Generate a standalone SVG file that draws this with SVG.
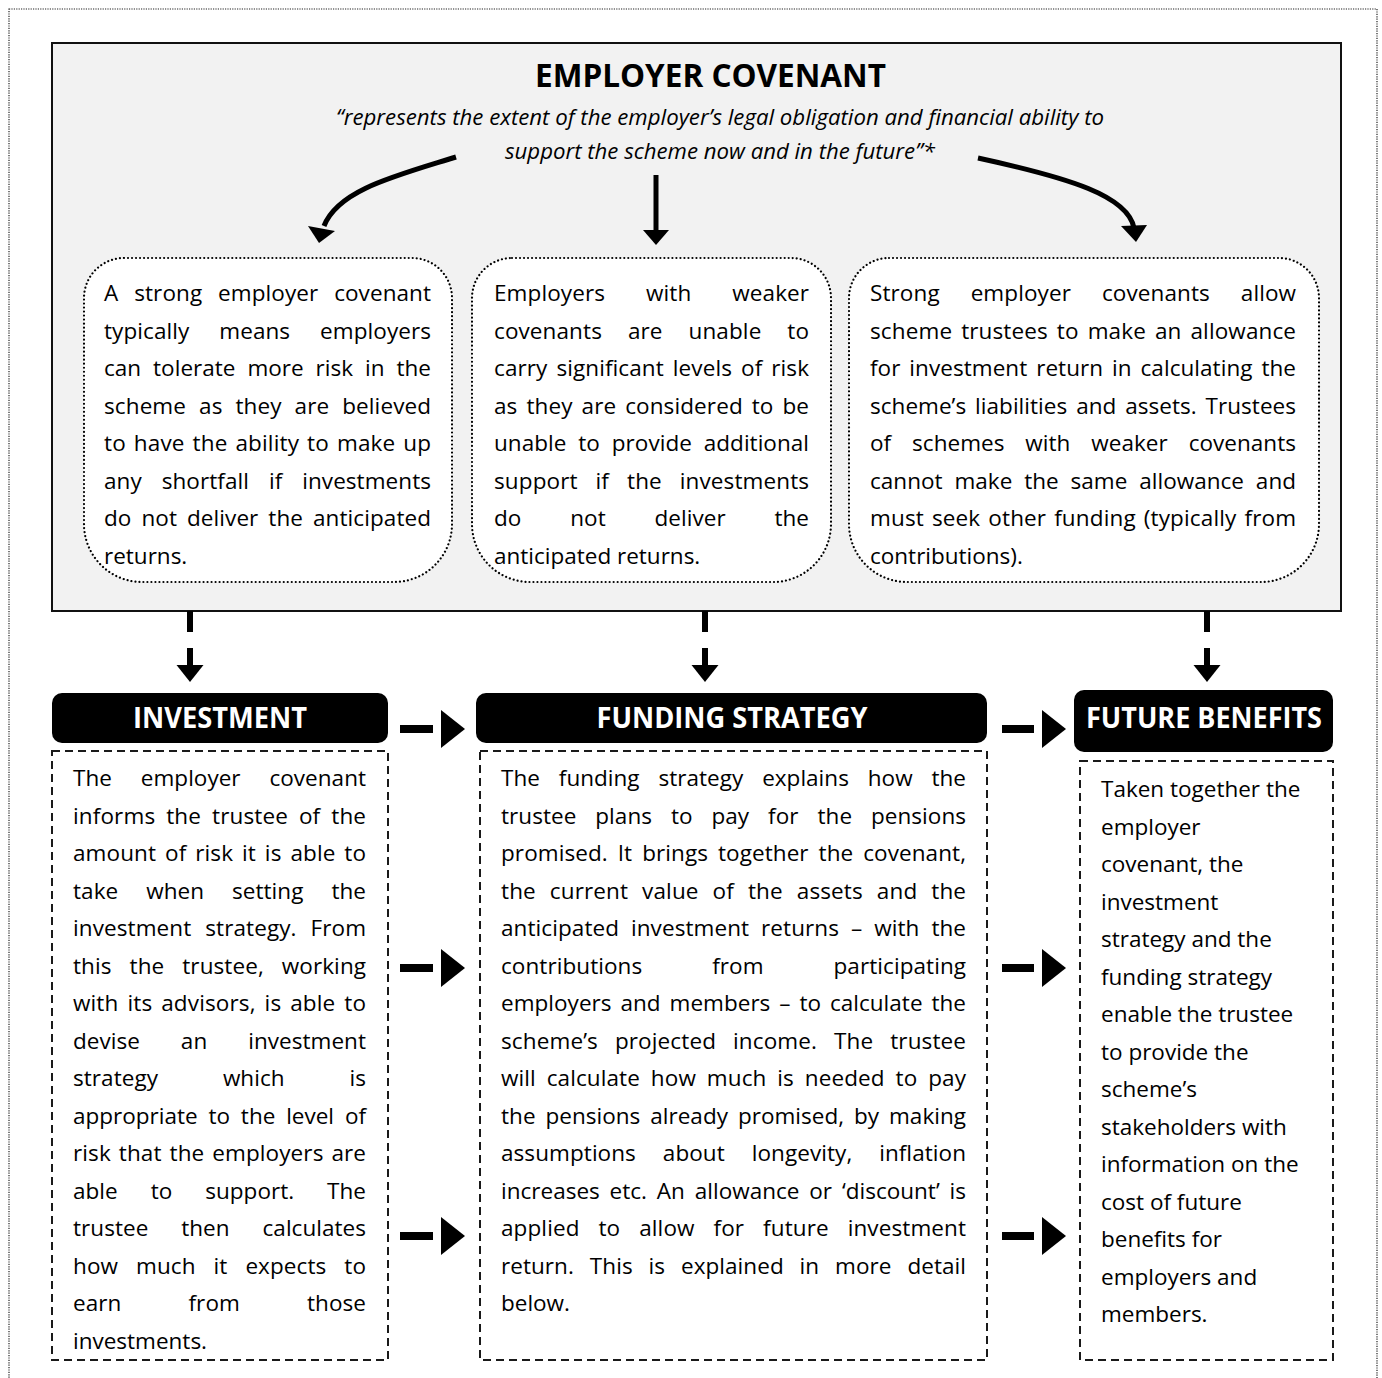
<svg xmlns="http://www.w3.org/2000/svg" width="1382" height="1378" viewBox="0 0 1382 1378">
<style>
.t{font-family:"Open Sans","Noto Sans","Liberation Sans",sans-serif;font-size:22.5px;fill:#000}
.it{font-family:"Open Sans","Noto Sans","Liberation Sans",sans-serif;font-size:21px;font-style:italic;fill:#000}
.ttl{font-family:"Open Sans","Noto Sans","Liberation Sans",sans-serif;font-size:32px;font-weight:bold;fill:#000}
.hdr{font-family:"Open Sans","Noto Sans","Liberation Sans",sans-serif;font-size:28px;font-weight:bold;fill:#fff}
.dot{fill:#fff;stroke:#000;stroke-width:2.2;stroke-dasharray:0.01 4;stroke-linecap:round}
.dash{fill:#fff;stroke:#1a1a1a;stroke-width:2;stroke-dasharray:8 5}
.hbox{fill:#000}
.arr{fill:#000}
.curve{fill:none;stroke:#000;stroke-width:5}
</style>
<rect x="9" y="9" width="1368" height="1390" fill="none" stroke="#222" stroke-width="1.2" stroke-dasharray="1.2 1.2"/>

<g id="employer-covenant">
<rect x="52" y="43" width="1289" height="568" fill="#f2f2f2" stroke="#111" stroke-width="2"/>
<text class="ttl" x="710.5" y="87" text-anchor="middle" textLength="351" lengthAdjust="spacingAndGlyphs">EMPLOYER COVENANT</text>
<text class="it" x="720" y="125" text-anchor="middle" textLength="768" lengthAdjust="spacingAndGlyphs">“represents the extent of the employer’s legal obligation and financial ability to</text>
<text class="it" x="720" y="159" text-anchor="middle" textLength="430" lengthAdjust="spacingAndGlyphs">support the scheme now and in the future”*</text>
</g>

<g id="strong-covenant">
<path class="dot" d="M124,258 H412 A40,40 0 0 1 452,298 V524 A58,58 0 0 1 394,582 H142 A58,58 0 0 1 84,524 V298 A40,40 0 0 1 124,258 Z"/>
<text class="t" x="104" y="301" textLength="327" lengthAdjust="spacing" word-spacing="10">A strong employer covenant</text>
<text class="t" x="104" y="338.5" textLength="327" lengthAdjust="spacing" word-spacing="24">typically means employers</text>
<text class="t" x="104" y="376" textLength="327" lengthAdjust="spacing" word-spacing="6">can tolerate more risk in the</text>
<text class="t" x="104" y="413.5" textLength="327" lengthAdjust="spacing" word-spacing="7">scheme as they are believed</text>
<text class="t" x="104" y="451" textLength="327" lengthAdjust="spacing" word-spacing="2">to have the ability to make up</text>
<text class="t" x="104" y="488.5" textLength="327" lengthAdjust="spacing" word-spacing="14">any shortfall if investments</text>
<text class="t" x="104" y="526" textLength="327" lengthAdjust="spacing" word-spacing="4">do not deliver the anticipated</text>
<text class="t" x="104" y="563.5">returns.</text>
</g>

<g id="weak-covenant">
<path class="dot" d="M512,258 H791 A40,40 0 0 1 831,298 V524 A58,58 0 0 1 773,582 H530 A58,58 0 0 1 472,524 V298 A40,40 0 0 1 512,258 Z"/>
<text class="t" x="494" y="301" textLength="315" lengthAdjust="spacing" word-spacing="35">Employers with weaker</text>
<text class="t" x="494" y="338.5" textLength="315" lengthAdjust="spacing" word-spacing="20">covenants are unable to</text>
<text class="t" x="494" y="376" textLength="315" lengthAdjust="spacing" word-spacing="3">carry significant levels of risk</text>
<text class="t" x="494" y="413.5" textLength="315" lengthAdjust="spacing" word-spacing="3">as they are considered to be</text>
<text class="t" x="494" y="451" textLength="315" lengthAdjust="spacing" word-spacing="6">unable to provide additional</text>
<text class="t" x="494" y="488.5" textLength="315" lengthAdjust="spacing" word-spacing="12">support if the investments</text>
<text class="t" x="494" y="526" textLength="315" lengthAdjust="spacing" word-spacing="43">do not deliver the</text>
<text class="t" x="494" y="563.5">anticipated returns.</text>
</g>

<g id="allowance">
<path class="dot" d="M889,258 H1279 A40,40 0 0 1 1319,298 V524 A58,58 0 0 1 1261,582 H907 A58,58 0 0 1 849,524 V298 A40,40 0 0 1 889,258 Z"/>
<text class="t" x="870" y="301" textLength="426" lengthAdjust="spacing" word-spacing="25">Strong employer covenants allow</text>
<text class="t" x="870" y="338.5" textLength="426" lengthAdjust="spacing" word-spacing="3">scheme trustees to make an allowance</text>
<text class="t" x="870" y="376" textLength="426" lengthAdjust="spacing" word-spacing="3">for investment return in calculating the</text>
<text class="t" x="870" y="413.5" textLength="426" lengthAdjust="spacing" word-spacing="3">scheme’s liabilities and assets. Trustees</text>
<text class="t" x="870" y="451" textLength="426" lengthAdjust="spacing" word-spacing="15">of schemes with weaker covenants</text>
<text class="t" x="870" y="488.5" textLength="426" lengthAdjust="spacing" word-spacing="6">cannot make the same allowance and</text>
<text class="t" x="870" y="526" textLength="426" lengthAdjust="spacing" word-spacing="2">must seek other funding (typically from</text>
<text class="t" x="870" y="563.5">contributions).</text>
</g>

<g id="investment">
<rect class="hbox" x="52" y="693" width="336" height="50" rx="10" ry="10"/>
<text class="hdr" x="220" y="728" text-anchor="middle" textLength="174" lengthAdjust="spacingAndGlyphs">INVESTMENT</text>
<rect class="dash" x="52" y="751" width="336" height="609"/>
<text class="t" x="73" y="786" textLength="293" lengthAdjust="spacing" word-spacing="23">The employer covenant</text>
<text class="t" x="73" y="823.5" textLength="293" lengthAdjust="spacing" word-spacing="5">informs the trustee of the</text>
<text class="t" x="73" y="861" textLength="293" lengthAdjust="spacing" word-spacing="3">amount of risk it is able to</text>
<text class="t" x="73" y="898.5" textLength="293" lengthAdjust="spacing" word-spacing="22">take when setting the</text>
<text class="t" x="73" y="936" textLength="293" lengthAdjust="spacing" word-spacing="8">investment strategy. From</text>
<text class="t" x="73" y="973.5" textLength="293" lengthAdjust="spacing" word-spacing="12">this the trustee, working</text>
<text class="t" x="73" y="1011" textLength="293" lengthAdjust="spacing" word-spacing="3">with its advisors, is able to</text>
<text class="t" x="73" y="1048.5" textLength="293" lengthAdjust="spacing" word-spacing="35">devise an investment</text>
<text class="t" x="73" y="1086" textLength="293" lengthAdjust="spacing" word-spacing="59">strategy which is</text>
<text class="t" x="73" y="1123.5" textLength="293" lengthAdjust="spacing" word-spacing="5">appropriate to the level of</text>
<text class="t" x="73" y="1161" textLength="293" lengthAdjust="spacing" word-spacing="2">risk that the employers are</text>
<text class="t" x="73" y="1198.5" textLength="293" lengthAdjust="spacing" word-spacing="27">able to support. The</text>
<text class="t" x="73" y="1236" textLength="293" lengthAdjust="spacing" word-spacing="27">trustee then calculates</text>
<text class="t" x="73" y="1273.5" textLength="293" lengthAdjust="spacing" word-spacing="12">how much it expects to</text>
<text class="t" x="73" y="1311" textLength="293" lengthAdjust="spacing" word-spacing="61">earn from those</text>
<text class="t" x="73" y="1348.5">investments.</text>
</g>

<g id="funding-strategy">
<rect class="hbox" x="476" y="693" width="511" height="50" rx="10" ry="10"/>
<text class="hdr" x="732" y="728" text-anchor="middle" textLength="271" lengthAdjust="spacingAndGlyphs">FUNDING STRATEGY</text>
<rect class="dash" x="480" y="751" width="507" height="609"/>
<text class="t" x="501" y="786" textLength="465" lengthAdjust="spacing" word-spacing="13">The funding strategy explains how the</text>
<text class="t" x="501" y="823.5" textLength="465" lengthAdjust="spacing" word-spacing="13">trustee plans to pay for the pensions</text>
<text class="t" x="501" y="861" textLength="465" lengthAdjust="spacing" word-spacing="4">promised. It brings together the covenant,</text>
<text class="t" x="501" y="898.5" textLength="465" lengthAdjust="spacing" word-spacing="8">the current value of the assets and the</text>
<text class="t" x="501" y="936" textLength="465" lengthAdjust="spacing" word-spacing="6">anticipated investment returns – with the</text>
<text class="t" x="501" y="973.5" textLength="465" lengthAdjust="spacing" word-spacing="64">contributions from participating</text>
<text class="t" x="501" y="1011" textLength="465" lengthAdjust="spacing" word-spacing="3">employers and members – to calculate the</text>
<text class="t" x="501" y="1048.5" textLength="465" lengthAdjust="spacing" word-spacing="11">scheme’s projected income. The trustee</text>
<text class="t" x="501" y="1086" textLength="465" lengthAdjust="spacing" word-spacing="5">will calculate how much is needed to pay</text>
<text class="t" x="501" y="1123.5" textLength="465" lengthAdjust="spacing" word-spacing="4">the pensions already promised, by making</text>
<text class="t" x="501" y="1161" textLength="465" lengthAdjust="spacing" word-spacing="21">assumptions about longevity, inflation</text>
<text class="t" x="501" y="1198.5" textLength="465" lengthAdjust="spacing" word-spacing="4">increases etc. An allowance or ‘discount’ is</text>
<text class="t" x="501" y="1236" textLength="465" lengthAdjust="spacing" word-spacing="13">applied to allow for future investment</text>
<text class="t" x="501" y="1273.5" textLength="465" lengthAdjust="spacing" word-spacing="10">return. This is explained in more detail</text>
<text class="t" x="501" y="1311">below.</text>
</g>

<g id="future-benefits">
<rect class="hbox" x="1074" y="690" width="259" height="62" rx="10" ry="10"/>
<text class="hdr" x="1204" y="728" text-anchor="middle" textLength="236" lengthAdjust="spacingAndGlyphs">FUTURE BENEFITS</text>
<rect class="dash" x="1080" y="761" width="253" height="599"/>
<text class="t" x="1101" y="797">Taken together the</text>
<text class="t" x="1101" y="834.5">employer</text>
<text class="t" x="1101" y="872">covenant, the</text>
<text class="t" x="1101" y="909.5">investment</text>
<text class="t" x="1101" y="947">strategy and the</text>
<text class="t" x="1101" y="984.5">funding strategy</text>
<text class="t" x="1101" y="1022">enable the trustee</text>
<text class="t" x="1101" y="1059.5">to provide the</text>
<text class="t" x="1101" y="1097">scheme’s</text>
<text class="t" x="1101" y="1134.5">stakeholders with</text>
<text class="t" x="1101" y="1172">information on the</text>
<text class="t" x="1101" y="1209.5">cost of future</text>
<text class="t" x="1101" y="1247">benefits for</text>
<text class="t" x="1101" y="1284.5">employers and</text>
<text class="t" x="1101" y="1322">members.</text>
</g>

<g id="connectors">
<path class="curve" d="M456,157 C395,176 338,190 324,226"/>
<polygon class="arr" points="308,226 335,231 319,243"/>
<line x1="656" y1="175" x2="656" y2="232" stroke="#000" stroke-width="5"/>
<polygon class="arr" points="643,230 669,230 656,245"/>
<path class="curve" d="M978,158 C1070,178 1128,196 1134,228"/>
<polygon class="arr" points="1121,226 1147,225 1136,242"/>

<line x1="190" y1="611" x2="190" y2="668" stroke="#000" stroke-width="6" stroke-dasharray="21 16"/>
<polygon class="arr" points="176.5,665 203.5,665 190,682"/>
<line x1="705" y1="611" x2="705" y2="668" stroke="#000" stroke-width="6" stroke-dasharray="21 16"/>
<polygon class="arr" points="691.5,665 718.5,665 705,682"/>
<line x1="1207" y1="611" x2="1207" y2="668" stroke="#000" stroke-width="6" stroke-dasharray="21 16"/>
<polygon class="arr" points="1193.5,665 1220.5,665 1207,682"/>

<rect class="arr" x="400" y="725" width="33" height="8"/>
<polygon class="arr" points="441,710 441,748 465,729"/>
<rect class="arr" x="400" y="964" width="33" height="8"/>
<polygon class="arr" points="441,949 441,987 465,968"/>
<rect class="arr" x="400" y="1232" width="33" height="8"/>
<polygon class="arr" points="441,1217 441,1255 465,1236"/>

<rect class="arr" x="1002" y="725" width="32" height="8"/>
<polygon class="arr" points="1042,710 1042,748 1066,729"/>
<rect class="arr" x="1002" y="964" width="32" height="8"/>
<polygon class="arr" points="1042,949 1042,987 1066,968"/>
<rect class="arr" x="1002" y="1232" width="32" height="8"/>
<polygon class="arr" points="1042,1217 1042,1255 1066,1236"/>
</g>
</svg>
